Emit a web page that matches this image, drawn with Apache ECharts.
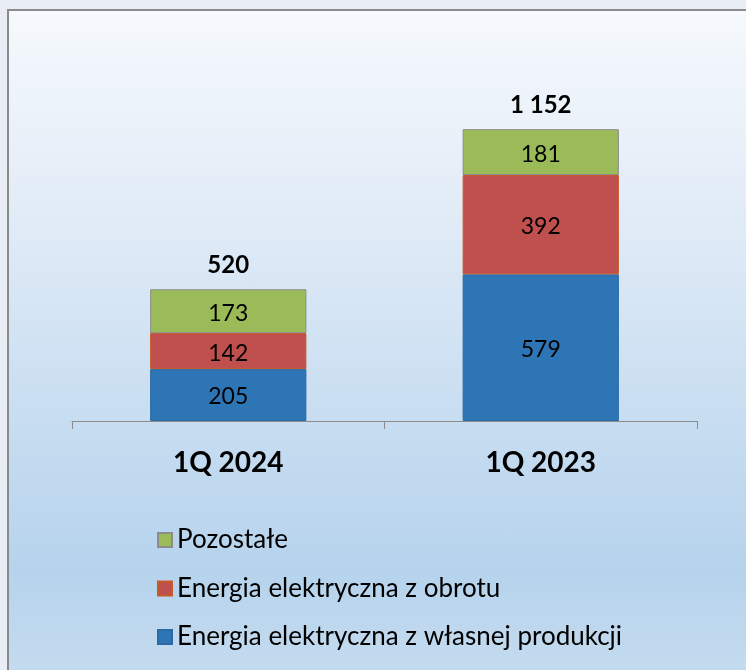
<!DOCTYPE html>
<html><head><meta charset="utf-8">
<script src="https://cdn.jsdelivr.net/npm/echarts@6/dist/echarts.min.js"></script>
<style>
html,body{margin:0;padding:0;background:#e9edf6;width:746px;height:670px;overflow:hidden;}
#frame{position:absolute;left:7px;top:9px;width:739px;height:661px;border-left:2px solid #8a8a8a;border-top:2px solid #8a8a8a;box-sizing:border-box;
background:linear-gradient(to bottom,#f6f9fd 0%,#e2ecf7 30%,#c9def1 60%,#b6d3ed 85%,#c4dbef 100%);}
#chart{position:absolute;left:0;top:0;width:746px;height:670px;}
</style></head><body>
<div id="frame"></div>
<div id="chart"></div>
<script>
const categories = ['1Q 2024', '1Q 2023'];
const wlasnaProdukcja = [205, 579];
const obrot = [142, 392];
const pozostale = [173, 181];
const names = ['Energia elektryczna z własnej produkcji', 'Energia elektryczna z obrotu', 'Pozostałe'];
const legendOrder = ['Pozostałe', 'Energia elektryczna z obrotu', 'Energia elektryczna z własnej produkcji'];

const totals = categories.map((c, i) => wlasnaProdukcja[i] + obrot[i] + pozostale[i]);
const fmt = v => String(v).replace(/\B(?=(\d{3})+(?!\d))/g, ' ');
const FONT = 'Lato';

const chart = echarts.init(document.getElementById('chart'), null, {renderer: 'canvas'});
const segLabel = {show: true, position: 'inside', color: '#000', fontSize: 23, fontFamily: FONT, offset: [0, 2]};
chart.setOption({
  animation: false,
  backgroundColor: 'transparent',
  grid: {left: 72, right: 49, top: 41, bottom: 249},
  xAxis: {
    type: 'category', data: categories,
    axisLine: {lineStyle: {color: '#8c8c8c', width: 1}},
    axisTick: {show: true, length: 8, alignWithLabel: false, lineStyle: {color: '#8c8c8c'}},
    axisLabel: {color: '#000', fontSize: 28, fontWeight: 'bold', fontFamily: FONT, margin: 28}
  },
  yAxis: {type: 'value', min: 0, max: 1500, show: false, splitLine: {show: false}},
  legend: {
    data: legendOrder, orient: 'vertical', left: 152, top: 520, height: 150,
    itemWidth: 14, itemHeight: 14, itemGap: 18.5,
    textStyle: {fontSize: 26, fontFamily: FONT, color: '#000', lineHeight: 30},
    icon: 'rect'
  },
  series: [
    {name: names[0], type: 'bar', stack: 's', barWidth: '50%', data: wlasnaProdukcja,
     itemStyle: {color: '#2e75b6', borderColor: '#2a6aa6', borderWidth: 1}, label: segLabel},
    {name: names[1], type: 'bar', stack: 's', data: obrot,
     itemStyle: {color: '#c0504d', borderColor: '#c55a2a', borderWidth: 1}, label: segLabel},
    {name: names[2], type: 'bar', stack: 's', data: pozostale,
     itemStyle: {color: '#9bbb59', borderColor: '#8c8c8c', borderWidth: 1}, label: segLabel},
    {name: 'Suma', type: 'bar', stack: 's', data: totals.map(() => 0), silent: true,
     itemStyle: {color: 'transparent'},
     label: {show: true, position: 'top', distance: 12, color: '#000', fontSize: 24, fontWeight: 'bold', fontFamily: FONT,
       formatter: p => fmt(totals[p.dataIndex])}}
  ]
});
</script>
</body></html>
